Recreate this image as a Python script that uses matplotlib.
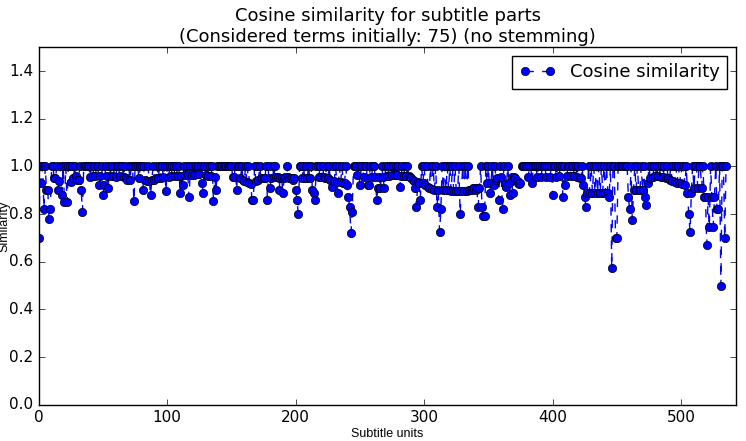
import numpy as np
import matplotlib
matplotlib.use('Agg')
import matplotlib.pyplot as plt

# cosine similarity per subtitle unit
similarity = [
    0.70, 1.0, 0.93, 1.0, 0.82, 1.0, 0.90, 0.90, 0.78, 0.82, 1.0, 1.0, 0.95, 0.95, 1.0, 0.90, 0.94, 1.0, 0.88, 1.0,
    0.85, 1.0, 0.85, 1.0, 1.0, 0.935, 1.0, 0.95, 1.0, 0.96, 0.945, 0.945, 1.0, 0.90, 0.81, 1.0, 1.0, 1.0, 1.0, 1.0,
    0.955, 1.0, 0.96, 1.0, 0.96, 1.0, 1.0, 0.92, 0.96, 1.0, 0.88, 0.92, 1.0, 0.96, 0.91, 1.0, 0.96, 1.0, 0.96, 1.0,
    0.955, 1.0, 1.0, 0.96, 1.0, 1.0, 0.955, 1.0, 0.95, 0.945, 1.0, 0.945, 1.0, 1.0, 0.855, 1.0, 1.0, 1.0, 0.95, 1.0,
    1.0, 0.90, 1.0, 0.945, 0.94, 1.0, 0.94, 0.88, 0.945, 1.0, 0.945, 0.95, 1.0, 0.95, 1.0, 0.95, 1.0, 0.955, 1.0, 0.895,
    1.0, 0.955, 1.0, 0.96, 1.0, 1.0, 0.96, 1.0, 0.96, 1.0, 0.89, 0.96, 0.92, 1.0, 0.965, 1.0, 0.965, 0.87, 1.0, 0.965,
    1.0, 0.965, 1.0, 0.97, 1.0, 0.97, 1.0, 0.93, 0.89, 1.0, 0.965, 1.0, 0.96, 1.0, 0.96, 1.0, 0.855, 0.955, 0.90, 1.0,
    1.0, 1.0, 1.0, 1.0, 1.0, 1.0, 1.0, 1.0, 1.0, 1.0, 1.0, 0.955, 0.955, 1.0, 0.90, 1.0, 1.0, 0.95, 1.0, 0.945,
    0.94, 1.0, 0.935, 1.0, 0.93, 0.925, 0.86, 0.86, 1.0, 0.94, 1.0, 0.945, 1.0, 0.95, 0.95, 0.95, 0.95, 1.0, 0.86, 1.0,
    0.91, 0.95, 1.0, 0.955, 1.0, 0.955, 0.955, 0.90, 0.95, 0.95, 0.89, 0.95, 0.955, 1.0, 0.955, 0.95, 0.95, 0.95, 0.945, 0.95,
    0.90, 0.86, 0.80, 1.0, 1.0, 0.95, 1.0, 0.95, 1.0, 0.95, 1.0, 0.95, 1.0, 0.90, 0.89, 0.86, 1.0, 1.0, 0.955, 1.0,
    0.955, 1.0, 0.955, 0.95, 1.0, 0.95, 1.0, 0.945, 0.915, 1.0, 0.94, 1.0, 0.935, 0.89, 1.0, 0.935, 1.0, 0.93, 0.93, 1.0,
    0.92, 0.87, 0.83, 0.72, 0.81, 1.0, 1.0, 1.0, 0.965, 1.0, 0.92, 1.0, 1.0, 0.955, 1.0, 1.0, 0.92, 0.92, 1.0, 0.955,
    1.0, 1.0, 0.955, 0.86, 0.91, 0.955, 0.91, 1.0, 0.955, 0.91, 1.0, 0.96, 1.0, 0.96, 1.0, 0.965, 1.0, 0.965, 1.0, 0.965,
    1.0, 0.915, 0.96, 1.0, 0.96, 1.0, 0.96, 1.0, 0.96, 0.955, 0.95, 0.945, 0.94, 0.91, 0.83, 0.935, 0.93, 0.86, 1.0, 0.93,
    1.0, 0.92, 1.0, 0.915, 0.91, 1.0, 0.905, 1.0, 0.90, 1.0, 0.83, 0.90, 0.725, 0.82, 1.0, 0.90, 1.0, 0.90, 1.0, 0.90,
    1.0, 0.895, 1.0, 0.895, 1.0, 0.895, 0.895, 1.0, 0.80, 0.895, 1.0, 0.895, 1.0, 0.895, 1.0, 0.90, 0.90, 0.90, 0.91, 0.91,
    0.90, 0.91, 0.83, 0.91, 1.0, 0.83, 0.79, 0.79, 1.0, 0.93, 1.0, 0.89, 0.93, 1.0, 0.92, 1.0, 0.945, 0.95, 0.86, 1.0,
    0.955, 0.82, 1.0, 0.925, 0.915, 1.0, 0.93, 0.88, 0.955, 0.89, 0.955, 0.95, 0.94, 0.93, 0.925, 0.93, 1.0, 1.0, 1.0, 1.0,
    1.0, 0.955, 1.0, 1.0, 0.93, 1.0, 1.0, 1.0, 0.955, 1.0, 1.0, 0.955, 1.0, 1.0, 1.0, 0.955, 1.0, 1.0, 0.955, 1.0,
    0.88, 1.0, 1.0, 0.955, 1.0, 0.96, 1.0, 1.0, 0.87, 1.0, 0.92, 0.96, 1.0, 1.0, 0.96, 1.0, 1.0, 0.96, 1.0, 0.955,
    1.0, 0.95, 0.95, 1.0, 0.92, 0.87, 0.83, 0.89, 1.0, 0.89, 1.0, 0.89, 1.0, 0.89, 1.0, 0.89, 1.0, 0.89, 1.0, 0.89,
    1.0, 0.89, 1.0, 0.89, 0.87, 1.0, 0.575, 1.0, 1.0, 0.70, 0.70, 1.0, 1.0, 1.0, 1.0, 1.0, 1.0, 1.0, 1.0, 0.87,
    0.82, 1.0, 0.775, 0.90, 1.0, 0.90, 1.0, 0.90, 0.90, 1.0, 0.90, 1.0, 0.87, 0.84, 0.93, 1.0, 0.95, 1.0, 0.955, 1.0,
    0.96, 1.0, 0.96, 1.0, 0.955, 1.0, 0.955, 1.0, 0.95, 1.0, 0.95, 0.945, 1.0, 0.94, 1.0, 0.935, 1.0, 0.93, 1.0, 0.93,
    1.0, 0.925, 1.0, 0.92, 1.0, 0.89, 0.80, 0.725, 0.89, 1.0, 0.91, 1.0, 1.0, 0.91, 1.0, 1.0, 0.91, 1.0, 0.87, 0.87,
    0.67, 0.87, 0.745, 1.0, 0.87, 0.745, 0.87, 1.0, 0.82, 0.82, 1.0, 0.50, 1.0, 1.0, 0.70, 1.0,
]

title = 'Cosine similarity for subtitle parts\n(Considered terms initially: 75) (no stemming)'
yticks = [0.0, 0.2, 0.4, 0.6, 0.8, 1.0, 1.2, 1.4]


def plot_similarity(values):
    plt.style.use('classic')
    x = np.arange(len(values))

    fig = plt.figure(figsize=(7.46, 4.41), dpi=100, facecolor='white')
    ax = fig.add_axes([0.052, 0.082, 0.935, 0.811])
    ax.plot(x, values, 'bo--', mec='k', mew=0.5, ms=6, lw=1, label='Cosine similarity')

    ax.set_xlim(0, 543)
    ax.set_ylim(0, 1.5)
    ax.set_yticks(yticks)
    ax.tick_params(labelsize=11)

    ax.set_title(title, fontsize=13, pad=4)
    ax.set_xlabel('Subtitle units', fontsize=9, family='Liberation Sans', labelpad=2)
    ax.set_ylabel('Similarity', fontsize=9, family='Liberation Sans')
    # keep the y label just inside the left edge of the figure
    ax.yaxis.set_label_coords(-0.040, 0.5)
    ax.legend(loc='upper right', fontsize=13, numpoints=2, fancybox=False)

    fig.savefig('out.png', dpi=100, facecolor='white')


if __name__ == "__main__":
    plot_similarity(similarity)
